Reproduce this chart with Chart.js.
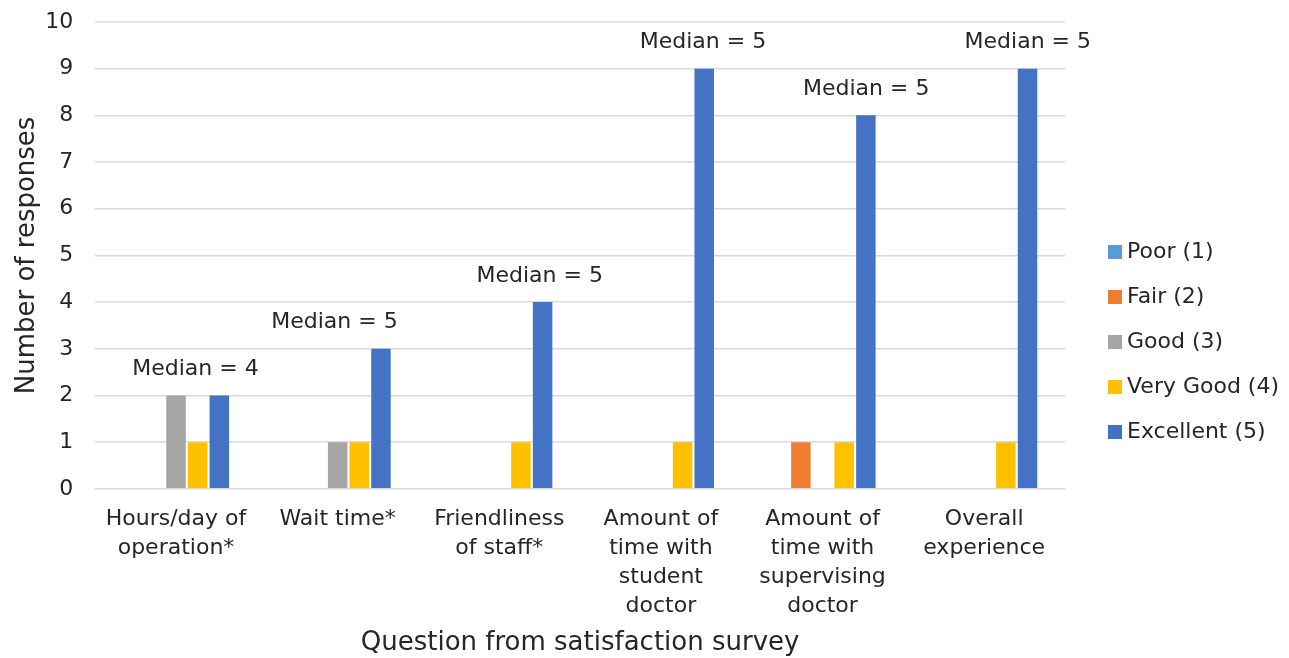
<!DOCTYPE html>
<html>
<head>
<meta charset="utf-8">
<script src="https://cdn.jsdelivr.net/npm/chart.js@4.4.1/dist/chart.umd.min.js"></script>
<style>
  html, body { margin: 0; padding: 0; background: #ffffff; }
  #wrap { width: 1289px; height: 658px; }
</style>
</head>
<body>
<div id="wrap"><canvas id="c" width="1289" height="658"></canvas></div>
<script>
// Survey questions (multi-line category labels)
const questions = [
  ['Hours/day of', 'operation*'],
  ['Wait time*'],
  ['Friendliness', 'of staff*'],
  ['Amount of', 'time with', 'student', 'doctor'],
  ['Amount of', 'time with', 'supervising', 'doctor'],
  ['Overall', 'experience']
];

// Rating categories
const ratingLabels = ['Poor (1)', 'Fair (2)', 'Good (3)', 'Very Good (4)', 'Excellent (5)'];
const ratingColors = ['#5B9BD5', '#ED7D31', '#A5A5A5', '#FFC000', '#4472C4'];

// Number of responses per rating, one array per rating
const poor      = [0, 0, 0, 0, 0, 0];
const fair      = [0, 0, 0, 0, 1, 0];
const good      = [2, 1, 0, 0, 0, 0];
const veryGood  = [1, 1, 1, 1, 1, 1];
const excellent = [2, 3, 4, 9, 8, 9];

// Median rating per question
const medians = [4, 5, 5, 5, 5, 5];

// Y axis ticks
const yTicks = [0, 1, 2, 3, 4, 5, 6, 7, 8, 9, 10];

const seriesValues = [poor, fair, good, veryGood, excellent];
const FONT = "'DejaVu Sans', sans-serif";
const TEXT = '#262626';

// Horizontal shift of each median note, as a fraction of the category width
const medianShift = [0.12, -0.02, 0.25, 0.26, 0.27, 0.27];

const medianNotes = {
  id: 'medianNotes',
  afterDatasetsDraw(chart) {
    const { ctx, scales: { x, y } } = chart;
    const catW = x.getPixelForValue(1) - x.getPixelForValue(0);
    ctx.save();
    ctx.font = `22px ${FONT}`;
    ctx.fillStyle = TEXT;
    ctx.textAlign = 'center';
    ctx.textBaseline = 'middle';
    questions.forEach((q, i) => {
      const top = Math.max(...seriesValues.map(s => s[i]));
      const px = x.getPixelForValue(i) + medianShift[i] * catW;
      const py = y.getPixelForValue(top + 0.56);
      ctx.fillText('Median = ' + medians[i], px, py);
    });
    ctx.restore();
  }
};

const sideLegend = {
  id: 'sideLegend',
  afterDraw(chart) {
    const { ctx, chartArea } = chart;
    const x0 = chartArea.right + 43;
    const step = 45;
    const n = chart.data.datasets.length;
    const yMid = 342;
    ctx.save();
    ctx.font = `22px ${FONT}`;
    ctx.textBaseline = 'middle';
    ctx.textAlign = 'left';
    chart.data.datasets.forEach((ds, i) => {
      const cy = yMid + (i - (n - 1) / 2) * step;
      ctx.fillStyle = ds.backgroundColor;
      ctx.fillRect(x0, cy - 7, 14, 14);
      ctx.fillStyle = TEXT;
      ctx.fillText(ds.label, x0 + 19, cy);
    });
    ctx.restore();
  }
};

new Chart(document.getElementById('c'), {
  type: 'bar',
  data: {
    labels: questions,
    datasets: ratingLabels.map((lab, k) => ({
      label: lab,
      data: seriesValues[k],
      backgroundColor: ratingColors[k],
      borderWidth: 0,
      barPercentage: 0.9,
      categoryPercentage: 0.67
    }))
  },
  options: {
    responsive: false,
    animation: false,
    devicePixelRatio: 1,
    layout: { padding: { top: 22, right: 224, bottom: 8, left: 12 } },
    plugins: {
      legend: { display: false },
      tooltip: { enabled: false }
    },
    scales: {
      x: {
        grid: { display: false, drawTicks: false },
        border: { display: false },
        ticks: {
          color: TEXT,
          font: { family: FONT, size: 22, lineHeight: 1.32 },
          maxRotation: 0,
          autoSkip: false,
          padding: 16
        },
        title: {
          display: true,
          text: 'Question from satisfaction survey',
          color: TEXT,
          font: { family: FONT, size: 26, lineHeight: 0.5 },
          padding: { top: 0, bottom: 0 }
        }
      },
      y: {
        min: 0,
        max: 10,
        afterBuildTicks(scale) { scale.ticks = yTicks.map(v => ({ value: v })); },
        afterFit(scale) { scale.paddingTop = 10; scale.paddingBottom = 10; },
        grid: { color: '#D9D9D9', lineWidth: 1.5, drawTicks: false },
        border: { display: false },
        ticks: {
          color: TEXT,
          font: { family: FONT, size: 22 },
          padding: 22
        },
        title: {
          display: true,
          text: 'Number of responses',
          color: TEXT,
          font: { family: FONT, size: 26 },
          padding: { top: 0, bottom: -20 }
        }
      }
    }
  },
  plugins: [medianNotes, sideLegend]
});
</script>
</body>
</html>
